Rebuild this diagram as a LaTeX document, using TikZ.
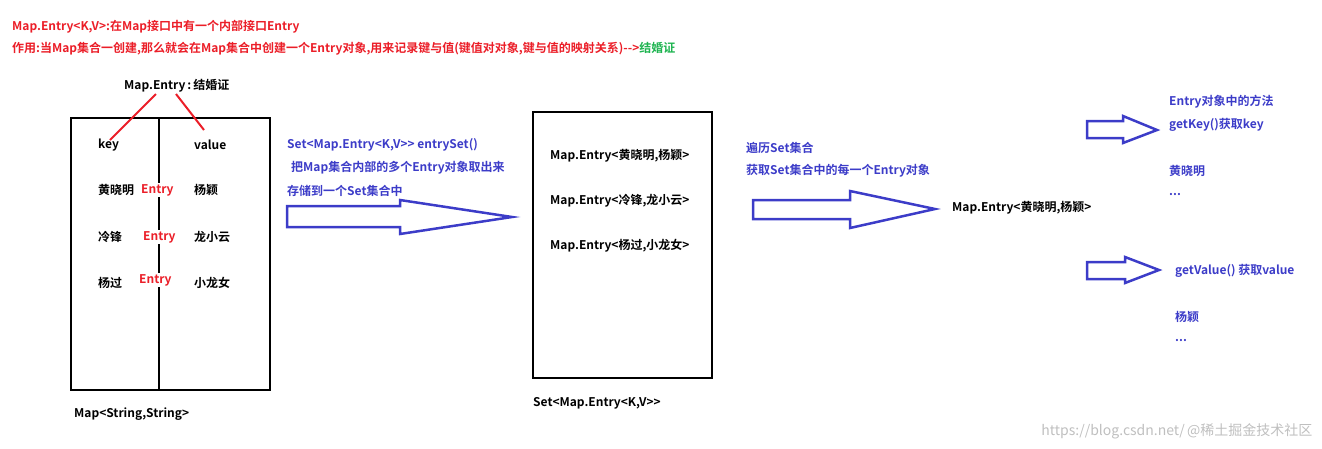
\documentclass[tikz,border=0pt]{standalone}
\usepackage{fontspec}
\setmainfont{Noto Sans CJK SC}[BoldFont={* Bold}]
\definecolor{rd}{RGB}{235,30,40}
\definecolor{bl}{RGB}{60,60,200}
\definecolor{gr}{RGB}{30,180,80}
\begin{document}
\begin{tikzpicture}[x=1pt,y=-1pt,
  t/.style={anchor=west,inner sep=0pt,font=\bfseries\fontsize{12}{14}\selectfont},
  box/.style={draw=black,line width=2.5pt},
  barrow/.style={draw=bl,line width=2.5pt,line join=miter}]
\useasboundingbox (0,0) rectangle (1322,448);
\node[t,text=rd] (h1) at (12,27) {Map.Entry<K,V>:在Map接口中有一个内部接口Entry};
\node[t,text=rd] (h2) at (12,49) {作用:当Map集合一创建,那么就会在Map集合中创建一个Entry对象,用来记录键与值(键值对对象,键与值的映射关系)-{}-{}>\textcolor{gr}{结婚证}};
\node[t] (me) at (124,86) {Map.Entry\,:\,结婚证};
\draw[box] (71,118) rectangle (270,390);
\draw[box] (159,118) -- (159,390);
\draw[rd,line width=2pt] (156,94) -- (110,140);
\draw[rd,line width=2pt] (176,94) -- (204,130);
\node[t] (k) at (98,145) {key};
\node[t] (v) at (194,145) {value};
\node[t] (r1) at (98,190) {黄晓明};
\node[t] (r2) at (98,237) {冷锋};
\node[t] (r3) at (98,283) {杨过};
\node[t] (v1) at (194,190) {杨颖};
\node[t] (v2) at (194,237) {龙小云};
\node[t] (v3) at (194,283) {小龙女};
\node[t,text=rd,fill=white,inner sep=1pt] (e1) at (140,190) {Entry};
\node[t,text=rd,fill=white,inner sep=1pt] (e2) at (142,237) {Entry};
\node[t,text=rd,fill=white,inner sep=1pt] (e3) at (138,280) {Entry};
\node[t] (ms) at (74,414) {Map<String,String>};
\node[t,text=bl] (s1) at (287,145) {Set<Map.Entry<K,V>{}> entrySet()};
\node[t,text=bl] (s2) at (291,168) {把Map集合内部的多个Entry对象取出来};
\node[t,text=bl] (s3) at (287,191) {存储到一个Set集合中};
\draw[barrow] (287,206) -- (400,206) -- (400,200) -- (512,217) -- (400,234) -- (400,227) -- (287,227) -- cycle;
\draw[box] (533,112) rectangle (712,378);
\node[t] (m1) at (550,156) {Map.Entry<黄晓明,杨颖>};
\node[t] (m2) at (550,201) {Map.Entry<冷锋,龙小云>};
\node[t] (m3) at (550,246) {Map.Entry<杨过,小龙女>};
\node[t] (sm) at (533,403) {Set<Map.Entry<K,V>{}>};
\node[t,text=bl] (b1) at (746,148) {遍历Set集合};
\node[t,text=bl] (b2) at (746,171) {获取Set集合中的每一个Entry对象};
\draw[barrow] (753,200) -- (850,200) -- (850,191) -- (935,209) -- (850,228) -- (850,219) -- (753,219) -- cycle;
\node[t] (one) at (952,208) {Map.Entry<黄晓明,杨颖>};
\draw[barrow] (1087,121) -- (1123,121) -- (1123,116) -- (1157,130) -- (1123,143) -- (1123,138) -- (1087,138) -- cycle;
\draw[barrow] (1087,262) -- (1125,262) -- (1125,257) -- (1159,270) -- (1125,283) -- (1125,279) -- (1087,279) -- cycle;
\node[t,text=bl] (c1) at (1169,102) {Entry对象中的方法};
\node[t,text=bl] (c2) at (1169,125) {getKey()获取key};
\node[t,text=bl] (c3) at (1169,171) {黄晓明};
\node[t,text=bl] (c4) at (1169,195) {...};
\node[t,text=bl] (c5) at (1175,271) {getValue() 获取value};
\node[t,text=bl] (c6) at (1175,317) {杨颖};
\node[t,text=bl] (c7) at (1175,341) {...};
\node[anchor=east,text=gray!50,font=\fontsize{14}{16}\selectfont] (wm) at (1316,431) {https://blog.csdn.net/\,@稀土掘金技术社区};
\end{tikzpicture}
\end{document}
